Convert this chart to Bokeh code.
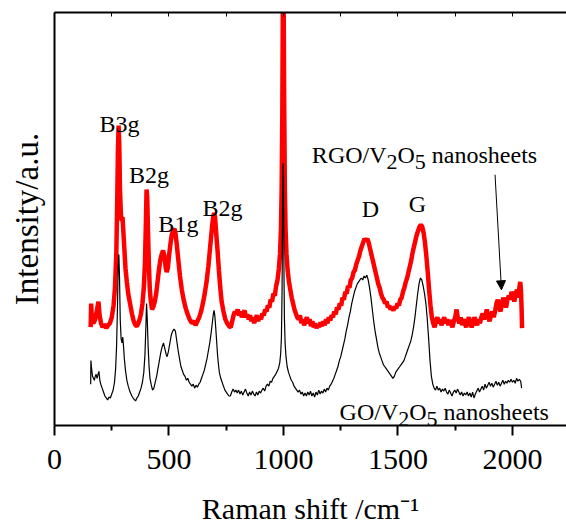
from bokeh.plotting import figure
from bokeh.models import LinearAxis, FixedTicker, Label, Arrow, NormalHead, Range1d
from bokeh.embed import file_html
from bokeh.resources import INLINE

# ---- data (Raman shift in cm^-1, intensity in arbitrary units) ----
rgo_x = [158,160,164,170,178,186,192,197,203,210,218,226,234,242,250,258,264,270,274,277,280,283,286,290,294,297,300,305,310,316,322,330,338,346,354,360,366,372,378,384,390,395,399,402,405,408,412,416,420,426,432,438,444,450,456,462,468,474,480,486,490,495,500,506,512,518,524,528,534,540,548,556,564,572,580,590,600,610,616,624,632,640,648,656,664,672,680,688,693,697,701,706,712,718,724,730,738,746,754,762,770,776,782,788,794,800,806,812,818,824,830,836,842,848,854,860,866,872,878,884,890,896,902,908,914,920,926,932,938,944,950,956,962,968,974,980,985,989,992,995,997,998,1000,1001,1003,1006,1009,1013,1018,1024,1030,1036,1042,1048,1054,1060,1066,1072,1078,1084,1090,1096,1102,1108,1114,1120,1126,1132,1138,1144,1150,1156,1162,1168,1174,1180,1186,1192,1198,1204,1210,1216,1222,1228,1234,1240,1246,1252,1258,1264,1270,1276,1282,1288,1294,1300,1306,1312,1318,1324,1330,1336,1342,1348,1354,1360,1366,1372,1378,1384,1390,1396,1402,1408,1414,1420,1426,1432,1438,1444,1450,1456,1462,1468,1474,1480,1486,1492,1498,1504,1510,1516,1522,1528,1534,1540,1546,1552,1558,1564,1570,1576,1582,1588,1594,1600,1606,1612,1618,1624,1630,1636,1642,1648,1654,1660,1666,1672,1678,1684,1690,1696,1702,1708,1714,1720,1726,1732,1738,1744,1750,1756,1762,1768,1774,1780,1786,1792,1798,1804,1810,1816,1822,1828,1834,1840,1846,1852,1858,1864,1870,1876,1882,1888,1894,1900,1906,1912,1918,1924,1930,1936,1942,1948,1954,1960,1966,1972,1978,1984,1990,1996,2002,2008,2014,2020,2026,2030,2034,2037,2040,2042]
rgo_y = [100,124,106,104,108,118,126,112,104,100,103,99,102,104,110,122,140,175,230,280,305,285,240,215,208,212,200,180,160,146,134,124,114,106,102,101,104,108,114,124,140,165,205,240,232,200,165,140,128,118,121,126,134,146,158,168,174,178,172,160,156,160,172,184,194,198,200,196,184,170,152,138,128,120,114,108,104,106,102,106,110,116,124,134,146,162,182,202,212,216,212,196,178,158,140,126,116,108,104,101,100,106,112,116,113,118,112,116,110,114,117,110,113,108,112,106,110,104,109,112,106,111,108,114,112,118,116,122,120,128,126,134,132,142,148,160,175,200,240,320,420,480,480,420,330,240,200,175,158,146,138,130,124,118,114,110,108,112,104,108,102,106,110,104,108,101,106,100,104,99,103,100,105,101,106,102,108,104,110,107,112,110,116,113,120,118,124,122,130,128,136,134,142,140,148,150,156,158,164,168,172,178,182,186,190,188,190,186,180,174,168,162,156,150,144,140,134,130,128,124,126,120,122,118,120,117,121,119,124,122,128,130,136,140,146,150,156,162,168,176,182,188,194,198,202,204,202,196,186,172,156,138,122,110,104,100,106,110,104,108,102,106,110,104,108,102,107,104,100,106,110,118,108,104,110,102,108,104,100,106,110,104,100,104,110,106,102,108,104,110,114,108,112,118,110,106,112,116,110,116,124,128,120,116,124,130,126,120,128,132,128,136,132,126,134,138,130,140,146,138,118,99]

go_x = [158,159,162,166,170,174,178,182,186,190,194,198,202,208,214,220,226,232,238,244,250,256,262,267,271,275,278,281,284,287,291,295,298,301,305,310,316,322,330,338,346,354,360,366,372,378,384,390,395,399,402,405,409,413,417,422,428,434,440,446,452,458,464,470,476,482,488,492,498,504,510,516,522,528,534,540,546,552,558,564,570,576,582,588,594,600,606,612,618,624,630,636,642,648,654,660,666,672,678,684,690,694,697,700,704,708,712,716,720,726,732,738,744,750,756,762,768,774,780,786,792,798,804,810,816,822,828,834,840,846,852,858,864,870,876,882,888,894,900,906,912,918,924,930,936,942,948,954,960,966,972,978,984,988,991,994,996,998,1000,1002,1004,1007,1011,1016,1022,1028,1034,1040,1046,1052,1058,1064,1070,1076,1082,1088,1094,1100,1106,1112,1118,1124,1130,1136,1142,1148,1154,1160,1166,1172,1178,1184,1190,1196,1202,1208,1214,1220,1226,1232,1238,1244,1250,1256,1262,1268,1274,1280,1286,1292,1298,1304,1310,1316,1322,1328,1334,1340,1346,1352,1358,1364,1370,1376,1382,1388,1394,1400,1406,1412,1418,1424,1430,1436,1442,1448,1454,1460,1466,1472,1478,1484,1490,1496,1502,1508,1514,1520,1526,1532,1538,1544,1550,1556,1562,1568,1574,1580,1586,1592,1598,1604,1610,1616,1622,1628,1634,1640,1646,1652,1658,1664,1670,1676,1682,1688,1694,1700,1706,1712,1718,1724,1730,1736,1742,1748,1754,1760,1766,1772,1778,1784,1790,1796,1802,1808,1814,1820,1826,1832,1838,1844,1850,1856,1862,1868,1874,1880,1886,1892,1898,1904,1910,1916,1922,1928,1934,1940,1946,1952,1958,1964,1970,1976,1982,1988,1994,2000,2006,2012,2018,2024,2030,2036,2040]
go_y = [42,66,58,50,48,46,50,52,48,52,55,46,42,38,34,30,28,26,29,28,32,36,44,58,80,120,160,174,150,108,88,84,90,82,68,56,46,40,34,30,27,25,28,30,34,38,44,54,72,100,124,108,80,60,48,42,36,38,44,50,58,66,74,80,84,78,72,70,76,84,92,96,98,96,86,76,68,60,56,52,50,46,48,44,42,40,42,38,41,39,42,44,48,52,56,62,68,76,84,94,106,114,117,112,100,86,72,62,54,48,44,40,36,34,32,30,30,34,37,34,36,33,36,32,35,31,34,37,33,30,34,31,35,32,30,34,31,35,33,36,38,35,40,42,40,45,44,48,50,52,55,58,64,74,90,140,230,267,250,160,110,84,70,60,54,50,46,44,40,38,36,34,36,32,34,30,33,30,34,31,35,30,33,29,34,31,36,32,35,33,37,34,38,36,40,42,45,48,52,56,60,66,70,76,82,88,96,102,110,116,124,130,136,140,144,146,148,150,148,152,150,153,148,140,130,118,106,96,88,80,74,70,66,62,60,58,56,54,52,50,48,50,54,56,58,60,62,64,66,70,74,78,82,86,92,100,110,122,134,144,150,148,142,134,124,108,88,66,50,42,38,36,40,36,38,34,37,35,38,34,32,36,33,30,34,36,33,37,34,31,34,30,33,31,34,30,33,29,34,28,32,35,38,34,37,40,36,42,38,41,44,40,43,39,42,45,41,44,40,43,46,42,45,43,46,44,47,44,46,43,48,45,47,45,38]

x_ticks = [0, 500, 1000, 1500, 2000]
x_minor_ticks = [250, 750, 1250, 1750, 2250]
top_ticks = [0, 250, 500, 750, 1000, 1250, 1500, 1750, 2000, 2250]

# annotation anchors (text, x in cm^-1, baseline in intensity units)
peak_labels = [("B3g", 284, 307), ("B2g", 413, 255), ("B1g", 541, 205),
               ("B2g", 734, 221), ("D", 1380, 220), ("G", 1585, 225)]
rgo_label_anchor = (1124, 275)
go_label_anchor = (1245, 14)
arrow_start = (1924, 255)
arrow_end = (1952, 138)

FONT = "Liberation Serif"

p = figure(width=566, height=527, output_backend="svg", toolbar_location=None,
           x_range=Range1d(0, 2236), y_range=Range1d(0, 420),
           min_border_left=54, min_border_right=0, min_border_top=12, min_border_bottom=95,
           x_axis_location="below", y_axis_location="left")
p.outline_line_color = None
p.grid.visible = False
p.background_fill_color = "white"
p.border_fill_color = "white"

# bottom axis
xa = p.xaxis[0]
xa.ticker = FixedTicker(ticks=x_ticks, minor_ticks=x_minor_ticks)
xa.axis_line_width = 2
xa.axis_line_color = "black"
xa.major_tick_line_width = 2
xa.major_tick_in = 0
xa.major_tick_out = 10
xa.minor_tick_line_width = 2
xa.minor_tick_in = 0
xa.minor_tick_out = 5
xa.major_label_text_font = FONT
xa.major_label_text_font_size = "30px"
xa.major_label_text_color = "black"
xa.major_label_standoff = 14
xa.major_label_text_line_height = 0.8
xa.axis_label = "Raman shift /cm\u207b\u00b9"
xa.axis_label_text_font = FONT
xa.axis_label_text_font_size = "30px"
xa.axis_label_text_font_style = "normal"
xa.axis_label_text_color = "black"
xa.axis_label_text_line_height = 0.8
xa.axis_label_standoff = 20

# left axis (line + title only)
ya = p.yaxis[0]
ya.ticker = FixedTicker(ticks=[], minor_ticks=[])
ya.axis_line_width = 2
ya.major_tick_in = 0
ya.major_tick_out = 0
ya.minor_tick_in = 0
ya.minor_tick_out = 0
ya.axis_label = "Intensity/a.u."
ya.axis_label_text_font = FONT
ya.axis_label_text_font_size = "33px"
ya.axis_label_text_font_style = "normal"
ya.axis_label_text_color = "black"
ya.axis_label_standoff = 10

# top axis (line + small inward ticks, no labels)
ta = LinearAxis(ticker=FixedTicker(ticks=[], minor_ticks=top_ticks))
ta.axis_line_width = 2
ta.major_tick_in = 0
ta.major_tick_out = 0
ta.minor_tick_in = 4
ta.minor_tick_out = 0
ta.minor_tick_line_width = 1
p.add_layout(ta, "above")

# spectra
p.line(rgo_x, rgo_y, line_color="#ff0000", line_width=4.5)
p.line(go_x, go_y, line_color="black", line_width=1.2)

for txt, lx, ly in peak_labels:
    p.add_layout(Label(x=lx, y=ly, text=txt, text_font=FONT, text_font_size="24px",
                       text_align="center", text_baseline="alphabetic", text_color="black"))

def formula_label(anchor, pieces):
    # pieces: (text, x offset px, y offset px, size px)
    for txt, dx, dy, sz in pieces:
        p.add_layout(Label(x=anchor[0], y=anchor[1], x_offset=dx, y_offset=dy, text=txt,
                           text_font=FONT, text_font_size=f"{sz}px", text_align="left",
                           text_baseline="alphabetic", text_color="black"))

formula_label(rgo_label_anchor, [("RGO/V", 0, 0, 24), ("2", 74.7, -7, 22), ("O", 85.7, 0, 24),
                                 ("5", 103, -7, 22), ("nanosheets", 120, 0, 24)])
formula_label(go_label_anchor, [("GO/V", 0, 0, 24), ("2", 58.7, -7, 22), ("O", 69.7, 0, 24),
                                ("5", 87, -7, 22), ("nanosheets", 104, 0, 24)])

p.add_layout(Arrow(end=NormalHead(size=9, fill_color="black", line_color="black"),
                   x_start=arrow_start[0], y_start=arrow_start[1],
                   x_end=arrow_end[0], y_end=arrow_end[1],
                   line_color="black", line_width=1))

open("out.html", "w").write(file_html(p, INLINE))
